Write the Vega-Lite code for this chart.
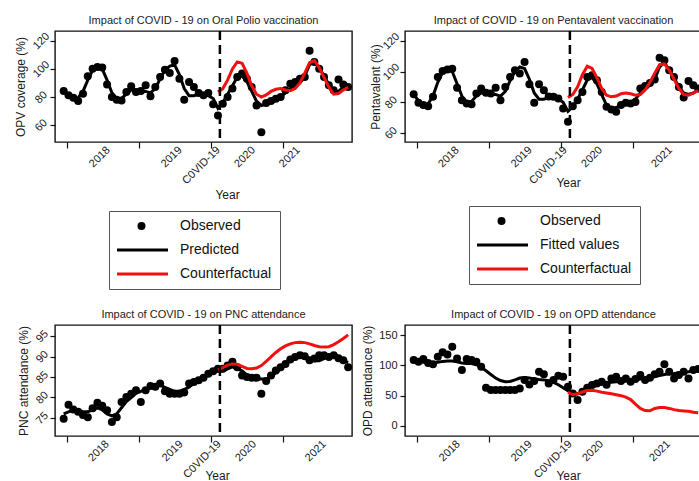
{
"$schema": "https://vega.github.io/schema/vega-lite/v6.json",
"padding": {"left": 13, "top": 14, "right": 0, "bottom": 0},
"bounds": "flush",
"columns": 2,
"spacing": {"row": 183, "column": 53},
"datasets": {
"p1": [
{"t":1,"obs":84.3,"fit":84},{"t":2,"obs":81.2,"fit":81},{"t":3,"obs":79.5,"fit":79},{"t":4,"obs":77.1,"fit":79.5},{"t":5,"obs":82.4,"fit":84},
{"t":6,"obs":94.8,"fit":92},{"t":7,"obs":100.2,"fit":99},{"t":8,"obs":101.4,"fit":101},{"t":9,"obs":101,"fit":100},{"t":10,"obs":89,"fit":92},
{"t":11,"obs":80,"fit":83},{"t":12,"obs":78,"fit":79},{"t":13,"obs":77.6,"fit":79},{"t":14,"obs":83.6,"fit":82},{"t":15,"obs":87.6,"fit":85},
{"t":16,"obs":83.6,"fit":85},{"t":17,"obs":84.3,"fit":84},{"t":18,"obs":88.4,"fit":84},{"t":19,"obs":80.5,"fit":83},{"t":20,"obs":87.1,"fit":86},
{"t":21,"obs":94.3,"fit":93},{"t":22,"obs":99.5,"fit":99},{"t":23,"obs":97.1,"fit":102},{"t":24,"obs":105.7,"fit":103},{"t":25,"obs":93.1,"fit":96},
{"t":26,"obs":78,"fit":86},{"t":27,"obs":90.7,"fit":81},{"t":28,"obs":87.1,"fit":81},{"t":29,"obs":82.9,"fit":82},{"t":30,"obs":81.2,"fit":82},
{"t":31,"obs":82.9,"fit":81},{"t":32,"obs":74.8,"fit":79},{"t":33,"obs":66.9,"fit":72,"cf":83.6},{"t":34,"obs":75.2,"fit":76,"cf":86},{"t":35,"obs":80,"fit":82,"cf":92},
{"t":36,"obs":86,"fit":88,"cf":100},{"t":37,"obs":94.3,"fit":94,"cf":105},{"t":38,"obs":96.7,"fit":95,"cf":104},{"t":39,"obs":93.1,"fit":91,"cf":97},{"t":40,"obs":87.1,"fit":84,"cf":88},
{"t":41,"obs":74,"fit":77,"cf":82},{"t":42,"obs":55,"fit":74,"cf":80},{"t":43,"obs":75.7,"fit":75,"cf":81.5},{"t":44,"obs":77.1,"fit":77,"cf":84},{"t":45,"obs":78.8,"fit":78.5,"cf":85.5},
{"t":46,"obs":80,"fit":80,"cf":86},{"t":47,"obs":84.8,"fit":83,"cf":85},{"t":48,"obs":89.5,"fit":86,"cf":84.5},{"t":49,"obs":90.7,"fit":88,"cf":86},{"t":50,"obs":93.1,"fit":90,"cf":90},
{"t":51,"obs":94.3,"fit":95,"cf":97},{"t":52,"obs":112.9,"fit":103,"cf":104.5},{"t":53,"obs":105,"fit":105,"cf":106},{"t":54,"obs":100.2,"fit":101,"cf":101},{"t":55,"obs":94.3,"fit":95,"cf":94},
{"t":56,"obs":88.4,"fit":89,"cf":87},{"t":57,"obs":84.8,"fit":84,"cf":82},{"t":58,"obs":92.4,"fit":84,"cf":82.5},{"t":59,"obs":89,"fit":87,"cf":85},{"t":60,"obs":87.1,"fit":88,"cf":87}
],
"p2": [
{"t":1,"obs":85.2,"fit":85},{"t":2,"obs":79.6,"fit":81},{"t":3,"obs":78.1,"fit":78},{"t":4,"obs":77.4,"fit":79},{"t":5,"obs":83.5,"fit":84},
{"t":6,"obs":96.5,"fit":93},{"t":7,"obs":100.4,"fit":99.5},{"t":8,"obs":101.3,"fit":101.5},{"t":9,"obs":101.9,"fit":100},{"t":10,"obs":89.5,"fit":92},
{"t":11,"obs":81.3,"fit":84},{"t":12,"obs":79.1,"fit":80},{"t":13,"obs":78.7,"fit":80.5},{"t":14,"obs":85.6,"fit":84},{"t":15,"obs":88.9,"fit":86},
{"t":16,"obs":86.1,"fit":86},{"t":17,"obs":85.6,"fit":85},{"t":18,"obs":89.5,"fit":85},{"t":19,"obs":81.3,"fit":84},{"t":20,"obs":90,"fit":87},
{"t":21,"obs":96.5,"fit":94},{"t":22,"obs":100.9,"fit":100},{"t":23,"obs":98.7,"fit":103},{"t":24,"obs":106.3,"fit":102},{"t":25,"obs":91.8,"fit":95},
{"t":26,"obs":79.6,"fit":86},{"t":27,"obs":91.8,"fit":82},{"t":28,"obs":87.8,"fit":82},{"t":29,"obs":83.7,"fit":83},{"t":30,"obs":83.5,"fit":83},
{"t":31,"obs":82.4,"fit":82},{"t":32,"obs":75.8,"fit":80},{"t":33,"obs":67.2,"fit":74,"cf":83},{"t":34,"obs":77.4,"fit":77,"cf":85},{"t":35,"obs":81.3,"fit":82,"cf":90},
{"t":36,"obs":86.7,"fit":88,"cf":98},{"t":37,"obs":96.5,"fit":94.5,"cf":103.5},{"t":38,"obs":97.6,"fit":96,"cf":102},{"t":39,"obs":94.4,"fit":92,"cf":96},{"t":40,"obs":86.7,"fit":85,"cf":89},
{"t":41,"obs":77,"fit":78,"cf":84.5},{"t":42,"obs":75.2,"fit":76,"cf":83.5},{"t":43,"obs":73.7,"fit":76.5,"cf":84},{"t":44,"obs":78.1,"fit":78,"cf":85.5},{"t":45,"obs":79.6,"fit":79,"cf":86},
{"t":46,"obs":79.2,"fit":80,"cf":85.5},{"t":47,"obs":80.2,"fit":82,"cf":84.5},{"t":48,"obs":88.9,"fit":86,"cf":85},{"t":49,"obs":90.5,"fit":89,"cf":88},{"t":50,"obs":92.6,"fit":91,"cf":93},
{"t":51,"obs":94.8,"fit":95,"cf":99},{"t":52,"obs":109.1,"fit":103,"cf":104.5},{"t":53,"obs":107.4,"fit":106,"cf":105},{"t":54,"obs":100.9,"fit":101,"cf":101},{"t":55,"obs":96.5,"fit":96,"cf":95},
{"t":56,"obs":90,"fit":90,"cf":89},{"t":57,"obs":83,"fit":86,"cf":85},{"t":58,"obs":93.9,"fit":85,"cf":84.5},{"t":59,"obs":91.1,"fit":86,"cf":86},{"t":60,"obs":88.9,"fit":88,"cf":87.5}
],
"p3": [
{"t":1,"obs":74.8,"fit":76},{"t":2,"obs":78.2,"fit":76.5},{"t":3,"obs":77.1,"fit":77},{"t":4,"obs":76.5,"fit":77},{"t":5,"obs":75.7,"fit":76.5},
{"t":6,"obs":75.2,"fit":76.5},{"t":7,"obs":77.4,"fit":77},{"t":8,"obs":78.7,"fit":77.5},{"t":9,"obs":78,"fit":77},{"t":10,"obs":76.9,"fit":76},
{"t":11,"obs":74,"fit":75.5},{"t":12,"obs":75.2,"fit":76},{"t":13,"obs":78.9,"fit":77.5},{"t":14,"obs":80.1,"fit":79},{"t":15,"obs":80.9,"fit":80},
{"t":16,"obs":81.8,"fit":81},{"t":17,"obs":78.9,"fit":81.5},{"t":18,"obs":81.8,"fit":82},{"t":19,"obs":82.8,"fit":82.5},{"t":20,"obs":82.6,"fit":83},
{"t":21,"obs":83.4,"fit":83},{"t":22,"obs":81.5,"fit":82.5},{"t":23,"obs":80.9,"fit":82},{"t":24,"obs":80.9,"fit":81.5},{"t":25,"obs":80.9,"fit":81.5},
{"t":26,"obs":81.2,"fit":82},{"t":27,"obs":83.4,"fit":82.5},{"t":28,"obs":83.8,"fit":83.5},{"t":29,"obs":84.2,"fit":84.5},{"t":30,"obs":84.8,"fit":85},
{"t":31,"obs":85.8,"fit":85.5},{"t":32,"obs":86.4,"fit":86},{"t":33,"obs":87,"fit":86.5,"cf":86.7},{"t":34,"obs":87,"fit":86.5,"cf":87.3},{"t":35,"obs":87.8,"fit":87,"cf":87.9},
{"t":36,"obs":88.7,"fit":87.5,"cf":88.2},{"t":37,"obs":87.4,"fit":87,"cf":88.1},{"t":38,"obs":85.4,"fit":86.5,"cf":87.6},{"t":39,"obs":85,"fit":85.5,"cf":87.1},{"t":40,"obs":84.8,"fit":85,"cf":87},
{"t":41,"obs":84.8,"fit":84.5,"cf":87.2},{"t":42,"obs":80.9,"fit":84.5,"cf":87.8},{"t":43,"obs":84,"fit":84.5,"cf":88.8},{"t":44,"obs":85.4,"fit":85,"cf":89.9},{"t":45,"obs":86.6,"fit":86,"cf":91},
{"t":46,"obs":87.4,"fit":87,"cf":91.9},{"t":47,"obs":88.2,"fit":88,"cf":92.6},{"t":48,"obs":89.3,"fit":89,"cf":93.1},{"t":49,"obs":89.9,"fit":89.5,"cf":93.4},{"t":50,"obs":90.3,"fit":90,"cf":93.5},
{"t":51,"obs":90.1,"fit":90,"cf":93.4},{"t":52,"obs":89.1,"fit":89.5,"cf":93.1},{"t":53,"obs":89.5,"fit":89,"cf":92.7},{"t":54,"obs":90.3,"fit":89,"cf":92.4},{"t":55,"obs":90.3,"fit":89.5,"cf":92.3},
{"t":56,"obs":89.9,"fit":90,"cf":92.4},{"t":57,"obs":90.3,"fit":90.5,"cf":92.9},{"t":58,"obs":89.6,"fit":90,"cf":93.6},{"t":59,"obs":89.1,"fit":89,"cf":94.4},{"t":60,"obs":87.4,"fit":88.5,"cf":95.3}
],
"p4": [
{"t":1,"obs":108.8,"fit":107},{"t":2,"obs":106,"fit":106},{"t":3,"obs":110.4,"fit":105},{"t":4,"obs":104,"fit":104},{"t":5,"obs":101.6,"fit":104},
{"t":6,"obs":114.2,"fit":105},{"t":7,"obs":121.4,"fit":106.5},{"t":8,"obs":118,"fit":107},{"t":9,"obs":130.7,"fit":107},{"t":10,"obs":111.4,"fit":106},
{"t":11,"obs":92.3,"fit":104},{"t":12,"obs":110.4,"fit":103},{"t":13,"obs":108.8,"fit":103},{"t":14,"obs":106,"fit":101},{"t":15,"obs":97.8,"fit":97},
{"t":16,"obs":63.1,"fit":91},{"t":17,"obs":59.3,"fit":85},{"t":18,"obs":59.3,"fit":79},{"t":19,"obs":59.3,"fit":75},{"t":20,"obs":59.3,"fit":73},
{"t":21,"obs":59.3,"fit":73.5},{"t":22,"obs":59.3,"fit":76},{"t":23,"obs":62,"fit":79},{"t":24,"obs":75.8,"fit":80},{"t":25,"obs":68.6,"fit":79},
{"t":26,"obs":74.2,"fit":77.5},{"t":27,"obs":89.5,"fit":76.5},{"t":28,"obs":85.1,"fit":76},{"t":29,"obs":70.2,"fit":74.5},{"t":30,"obs":75.8,"fit":72},
{"t":31,"obs":82.9,"fit":68},{"t":32,"obs":81.3,"fit":63},{"t":33,"obs":64.8,"fit":58,"cf":55.5},{"t":34,"obs":53.7,"fit":54,"cf":51.5},{"t":35,"obs":42.9,"fit":53,"cf":53},
{"t":36,"obs":56.5,"fit":56,"cf":56},{"t":37,"obs":63.1,"fit":60,"cf":58.5},{"t":38,"obs":67.6,"fit":64,"cf":59},{"t":39,"obs":70.2,"fit":67,"cf":57.5},{"t":40,"obs":73,"fit":69,"cf":55.5},
{"t":41,"obs":68,"fit":71,"cf":54.5},{"t":42,"obs":78.5,"fit":72,"cf":53},{"t":43,"obs":81.3,"fit":73,"cf":51.5},{"t":44,"obs":74.2,"fit":73.5,"cf":50},{"t":45,"obs":78.5,"fit":74,"cf":47.5},
{"t":46,"obs":73,"fit":75,"cf":43.5},{"t":47,"obs":77.5,"fit":76,"cf":36},{"t":48,"obs":84,"fit":77.5,"cf":29},{"t":49,"obs":75.8,"fit":78.5,"cf":25.5},{"t":50,"obs":79.6,"fit":80,"cf":25},
{"t":51,"obs":85.1,"fit":81.5,"cf":29},{"t":52,"obs":89.5,"fit":83,"cf":30.5},{"t":53,"obs":101.6,"fit":85,"cf":30.5},{"t":54,"obs":89.5,"fit":86,"cf":29},{"t":55,"obs":78.5,"fit":86.5,"cf":27},
{"t":56,"obs":84,"fit":87.5,"cf":25.5},{"t":57,"obs":89.5,"fit":88.5,"cf":24.8},{"t":58,"obs":78.5,"fit":89.5,"cf":24.2},{"t":59,"obs":92.3,"fit":91,"cf":22.6},{"t":60,"obs":94,"fit":92.5,"cf":22}
],
"covid": [{"intervention": 33.4}]
},
"concat": [
{
"width": 297, "height": 111,
"title": {"text": "Impact of COVID - 19 on Oral Polio vaccination"},
"data": {"name": "p1"},
"layer": [
{"mark": {"type": "point", "filled": true, "size": 64, "opacity": 1},
 "encoding": {
  "x": {"field": "t", "type": "quantitative", "scale": {"domain": [-0.8, 60.8], "nice": false, "zero": false},
        "axis": {"orient": "bottom", "values": [1.7, 16.6, 31.6, 46.5], "labels": false, "ticks": true, "tickSize": 6, "title": null, "domain": false}},
  "y": {"field": "obs", "type": "quantitative", "scale": {"domain": [48, 127], "nice": false, "zero": false},
        "axis": {"values": [60, 80, 100, 120], "title": "OPV coverage (%)", "labelAngle": -45, "labelAlign": "center", "labelBaseline": "middle", "labelPadding": 9, "labelOverlap": false, "labelBound": false, "labelFlush": false, "tickSize": 5, "titleX": -35, "titleY": 55.5, "titleBaseline": "middle", "titleAngle": -90, "titleAlign": "center"}},
  "fill": {"datum": "Observed", "type": "nominal",
        "scale": {"domain": ["Observed"], "range": ["black"]},
        "legend": {"orient": "none", "legendX": 54, "legendY": 180, "title": null, "padding": 8,
                   "labelFontSize": 14, "labelColor": "#111", "symbolType": "circle", "symbolSize": 64, "symbolStrokeWidth": 0,
                   "symbolOffset": 17.5, "labelOffset": 31.5, "symbolFillColor": "black", "symbolOpacity": 1}}
 }},
{"mark": {"type": "line", "strokeWidth": 3},
 "encoding": {
  "x": {"field": "t", "type": "quantitative",
        "axis": {"orient": "bottom", "values": [10.2, 25.1, 33.0, 40.3, 49.6], "labelExpr": "datum.value < 18 ? '2018' : datum.value < 30 ? '2019' : datum.value < 36 ? 'C0VID-19' : datum.value < 45 ? '2020' : '2021'",
                 "ticks": false, "tickSize": 0, "domain": false, "labelAngle": -45, "labelAlign": "right", "labelBaseline": "middle", "labelPadding": 6, "labelOverlap": false, "labelBound": false, "labelFlush": false,
                 "title": "Year", "titleX": 172, "titleY": 52, "titleBaseline": "middle"}},
  "y": {"field": "fit", "type": "quantitative",
        "axis": {"values": [60, 80, 100, 120], "title": "OPV coverage (%)", "labelAngle": -45, "labelAlign": "center", "labelBaseline": "middle", "labelPadding": 9, "labelOverlap": false, "labelBound": false, "labelFlush": false, "tickSize": 5, "titleX": -35, "titleY": 55.5, "titleBaseline": "middle", "titleAngle": -90, "titleAlign": "center"}},
  "stroke": {"datum": "Predicted", "type": "nominal",
        "scale": {"domain": ["Predicted", "Counterfactual"], "range": ["black", "#f01010"]},
        "legend": {"orient": "none", "legendX": 54, "legendY": 180, "title": " ", "titleFontSize": 14, "titlePadding": 10, "padding": 8, "rowPadding": 10,
                   "labelFontSize": 14, "labelColor": "#111", "strokeColor": "#555", "symbolType": "stroke", "symbolSize": 2809, "symbolStrokeWidth": 3,
                   "clipHeight": 14, "symbolOffset": -3.5, "labelOffset": 10.5, "symbolOpacity": 1}}
 }},
{"mark": {"type": "line", "strokeWidth": 3},
 "encoding": {
  "x": {"field": "t", "type": "quantitative", "axis": null},
  "y": {"field": "cf", "type": "quantitative",
        "axis": {"values": [60, 80, 100, 120], "title": "OPV coverage (%)", "labelAngle": -45, "labelAlign": "center", "labelBaseline": "middle", "labelPadding": 9, "labelOverlap": false, "labelBound": false, "labelFlush": false, "tickSize": 5, "titleX": -35, "titleY": 55.5, "titleBaseline": "middle", "titleAngle": -90, "titleAlign": "center"}},
  "stroke": {"datum": "Counterfactual", "type": "nominal"}
 }},
{"data": {"name": "covid"},
 "mark": {"type": "rule", "strokeDash": [9, 5], "strokeWidth": 2.5, "color": "black"},
 "encoding": {"x": {"field": "intervention", "type": "quantitative", "axis": null}}}
],
"resolve": {"axis": {"x": "independent"}}
},
{
"width": 297, "height": 111,
"title": {"text": "Impact of COVID - 19 on Pentavalent vaccination"},
"data": {"name": "p2"},
"layer": [
{"mark": {"type": "point", "filled": true, "size": 64, "opacity": 1},
 "encoding": {
  "x": {"field": "t", "type": "quantitative", "scale": {"domain": [-0.8, 60.8], "nice": false, "zero": false},
        "axis": {"orient": "bottom", "values": [1.7, 16.6, 31.6, 46.5], "labels": false, "ticks": true, "tickSize": 6, "title": null, "domain": false}},
  "y": {"field": "obs", "type": "quantitative", "scale": {"domain": [54, 126.5], "nice": false, "zero": false},
        "axis": {"values": [60, 80, 100, 120], "title": "Pentavalent (%)", "labelAngle": -45, "labelAlign": "center", "labelBaseline": "middle", "labelPadding": 9, "labelOverlap": false, "labelBound": false, "labelFlush": false, "tickSize": 5, "titleX": -30, "titleY": 55.5, "titleBaseline": "middle", "titleAngle": -90, "titleAlign": "center"}},
  "fill": {"datum": "Observed", "type": "nominal",
        "scale": {"domain": ["Observed"], "range": ["black"]},
        "legend": {"orient": "none", "legendX": 64, "legendY": 175, "title": null, "padding": 8,
                   "labelFontSize": 14, "labelColor": "#111", "symbolType": "circle", "symbolSize": 64, "symbolStrokeWidth": 0,
                   "symbolOffset": 17.5, "labelOffset": 31.5, "symbolFillColor": "black", "symbolOpacity": 1}}
 }},
{"mark": {"type": "line", "strokeWidth": 3},
 "encoding": {
  "x": {"field": "t", "type": "quantitative",
        "axis": {"orient": "bottom", "values": [10.0, 25.1, 32.4, 39.7, 54.2], "labelExpr": "datum.value < 18 ? '2018' : datum.value < 30 ? '2019' : datum.value < 36 ? 'C0VID-19' : datum.value < 45 ? '2020' : '2021'",
                 "ticks": false, "tickSize": 0, "domain": false, "labelAngle": -45, "labelAlign": "right", "labelBaseline": "middle", "labelPadding": 6, "labelOverlap": false, "labelBound": false, "labelFlush": false,
                 "title": "Year", "titleX": 163, "titleY": 40, "titleBaseline": "middle"}},
  "y": {"field": "fit", "type": "quantitative",
        "axis": {"values": [60, 80, 100, 120], "title": "Pentavalent (%)", "labelAngle": -45, "labelAlign": "center", "labelBaseline": "middle", "labelPadding": 9, "labelOverlap": false, "labelBound": false, "labelFlush": false, "tickSize": 5, "titleX": -30, "titleY": 55.5, "titleBaseline": "middle", "titleAngle": -90, "titleAlign": "center"}},
  "stroke": {"datum": "Fitted values", "type": "nominal",
        "scale": {"domain": ["Fitted values", "Counterfactual"], "range": ["black", "#f01010"]},
        "legend": {"orient": "none", "legendX": 64, "legendY": 175, "title": " ", "titleFontSize": 14, "titlePadding": 10, "padding": 8, "rowPadding": 10,
                   "labelFontSize": 14, "labelColor": "#111", "strokeColor": "#555", "symbolType": "stroke", "symbolSize": 2809, "symbolStrokeWidth": 3,
                   "clipHeight": 14, "symbolOffset": -3.5, "labelOffset": 10.5, "symbolOpacity": 1}}
 }},
{"mark": {"type": "line", "strokeWidth": 3},
 "encoding": {
  "x": {"field": "t", "type": "quantitative", "axis": null},
  "y": {"field": "cf", "type": "quantitative",
        "axis": {"values": [60, 80, 100, 120], "title": "Pentavalent (%)", "labelAngle": -45, "labelAlign": "center", "labelBaseline": "middle", "labelPadding": 9, "labelOverlap": false, "labelBound": false, "labelFlush": false, "tickSize": 5, "titleX": -30, "titleY": 55.5, "titleBaseline": "middle", "titleAngle": -90, "titleAlign": "center"}},
  "stroke": {"datum": "Counterfactual", "type": "nominal"}
 }},
{"data": {"name": "covid"},
 "mark": {"type": "rule", "strokeDash": [9, 5], "strokeWidth": 2.5, "color": "black"},
 "encoding": {"x": {"field": "intervention", "type": "quantitative", "axis": null}}}
],
"resolve": {"axis": {"x": "independent"}}
},
{
"width": 297, "height": 111,
"title": {"text": "Impact of COVID - 19 on PNC attendance"},
"data": {"name": "p3"},
"layer": [
{"mark": {"type": "point", "filled": true, "size": 64, "opacity": 1, "color": "black"},
 "encoding": {
  "x": {"field": "t", "type": "quantitative", "scale": {"domain": [-0.8, 60.8], "nice": false, "zero": false},
        "axis": {"orient": "bottom", "values": [1.7, 16.6, 31.6, 46.5], "labels": false, "ticks": true, "tickSize": 6, "title": null, "domain": false}},
  "y": {"field": "obs", "type": "quantitative", "scale": {"domain": [70.6, 97.7], "nice": false, "zero": false},
        "axis": {"values": [75, 80, 85, 90, 95], "title": "PNC attendance (%)", "labelAngle": -45, "labelAlign": "center", "labelBaseline": "middle", "labelPadding": 8, "labelOverlap": false, "labelBound": false, "labelFlush": false, "tickSize": 5, "titleX": -32, "titleY": 55.5, "titleBaseline": "middle", "titleAngle": -90, "titleAlign": "center"}}
 }},
{"mark": {"type": "line", "strokeWidth": 3, "color": "black"},
 "encoding": {
  "x": {"field": "t", "type": "quantitative",
        "axis": {"orient": "bottom", "values": [10.0, 25.3, 33.2, 40.5, 55.0], "labelExpr": "datum.value < 18 ? '2018' : datum.value < 30 ? '2019' : datum.value < 36 ? 'C0VID-19' : datum.value < 45 ? '2020' : '2021'",
                 "ticks": false, "tickSize": 0, "domain": false, "labelAngle": -45, "labelAlign": "right", "labelBaseline": "middle", "labelPadding": 6, "labelOverlap": false, "labelBound": false, "labelFlush": false,
                 "title": "Year", "titleX": 162, "titleY": 39, "titleBaseline": "middle"}},
  "y": {"field": "fit", "type": "quantitative",
        "axis": {"values": [75, 80, 85, 90, 95], "title": "PNC attendance (%)", "labelAngle": -45, "labelAlign": "center", "labelBaseline": "middle", "labelPadding": 8, "labelOverlap": false, "labelBound": false, "labelFlush": false, "tickSize": 5, "titleX": -32, "titleY": 55.5, "titleBaseline": "middle", "titleAngle": -90, "titleAlign": "center"}}
 }},
{"mark": {"type": "line", "strokeWidth": 3, "color": "#f01010"},
 "encoding": {
  "x": {"field": "t", "type": "quantitative", "axis": null},
  "y": {"field": "cf", "type": "quantitative",
        "axis": {"values": [75, 80, 85, 90, 95], "title": "PNC attendance (%)", "labelAngle": -45, "labelAlign": "center", "labelBaseline": "middle", "labelPadding": 8, "labelOverlap": false, "labelBound": false, "labelFlush": false, "tickSize": 5, "titleX": -32, "titleY": 55.5, "titleBaseline": "middle", "titleAngle": -90, "titleAlign": "center"}}
 }},
{"data": {"name": "covid"},
 "mark": {"type": "rule", "strokeDash": [9, 5], "strokeWidth": 2.5, "color": "black"},
 "encoding": {"x": {"field": "intervention", "type": "quantitative", "axis": null}}}
],
"resolve": {"axis": {"x": "independent"}}
},
{
"width": 297, "height": 111,
"title": {"text": "Impact of COVID - 19 on OPD attendance"},
"data": {"name": "p4"},
"layer": [
{"mark": {"type": "point", "filled": true, "size": 64, "opacity": 1, "color": "black"},
 "encoding": {
  "x": {"field": "t", "type": "quantitative", "scale": {"domain": [-0.8, 60.8], "nice": false, "zero": false},
        "axis": {"orient": "bottom", "values": [1.7, 16.6, 31.6, 46.5], "labels": false, "ticks": true, "tickSize": 6, "title": null, "domain": false}},
  "y": {"field": "obs", "type": "quantitative", "scale": {"domain": [-16.5, 166.5], "nice": false, "zero": false},
        "axis": {"values": [0, 50, 100, 150], "title": "OPD attendance (%)", "labelAngle": 0, "labelAlign": "right", "labelBaseline": "middle", "labelPadding": 3, "labelOverlap": false, "labelBound": false, "labelFlush": false, "tickSize": 5, "titleX": -38, "titleY": 55.5, "titleBaseline": "middle", "titleAngle": -90, "titleAlign": "center"}}
 }},
{"mark": {"type": "line", "strokeWidth": 3, "color": "black"},
 "encoding": {
  "x": {"field": "t", "type": "quantitative",
        "axis": {"orient": "bottom", "values": [10.2, 25.1, 33.4, 39.9, 53.8], "labelExpr": "datum.value < 18 ? '2018' : datum.value < 30 ? '2019' : datum.value < 36 ? 'C0VID-19' : datum.value < 45 ? '2020' : '2021'",
                 "ticks": false, "tickSize": 0, "domain": false, "labelAngle": -45, "labelAlign": "right", "labelBaseline": "middle", "labelPadding": 6, "labelOverlap": false, "labelBound": false, "labelFlush": false,
                 "title": "Year", "titleX": 163, "titleY": 39, "titleBaseline": "middle"}},
  "y": {"field": "fit", "type": "quantitative",
        "axis": {"values": [0, 50, 100, 150], "title": "OPD attendance (%)", "labelAngle": 0, "labelAlign": "right", "labelBaseline": "middle", "labelPadding": 3, "labelOverlap": false, "labelBound": false, "labelFlush": false, "tickSize": 5, "titleX": -38, "titleY": 55.5, "titleBaseline": "middle", "titleAngle": -90, "titleAlign": "center"}}
 }},
{"mark": {"type": "line", "strokeWidth": 3, "color": "#f01010"},
 "encoding": {
  "x": {"field": "t", "type": "quantitative", "axis": null},
  "y": {"field": "cf", "type": "quantitative",
        "axis": {"values": [0, 50, 100, 150], "title": "OPD attendance (%)", "labelAngle": 0, "labelAlign": "right", "labelBaseline": "middle", "labelPadding": 3, "labelOverlap": false, "labelBound": false, "labelFlush": false, "tickSize": 5, "titleX": -38, "titleY": 55.5, "titleBaseline": "middle", "titleAngle": -90, "titleAlign": "center"}}
 }},
{"data": {"name": "covid"},
 "mark": {"type": "rule", "strokeDash": [9, 5], "strokeWidth": 2.5, "color": "black"},
 "encoding": {"x": {"field": "intervention", "type": "quantitative", "axis": null}}}
],
"resolve": {"axis": {"x": "independent"}}
}
],
"resolve": {"scale": {"fill": "independent", "stroke": "independent", "x": "independent", "y": "independent"}, "legend": {"fill": "independent", "stroke": "independent"}},
"config": {
  "font": "Liberation Sans",
  "view": {"stroke": "#111", "strokeWidth": 1.4},
  "axis": {"grid": false, "domain": false, "labelOverlap": false, "tickColor": "#111", "tickWidth": 1.2, "labelColor": "#1a1a1a", "titleColor": "#1a1a1a", "labelFontSize": 11, "titleFontSize": 12, "titleFontWeight": "normal", "labelFont": "Liberation Sans", "titleFont": "Liberation Sans"},
  "axisY": {"labelOverlap": false},
  "title": {"fontSize": 11, "fontWeight": "normal", "color": "#222", "offset": 4, "font": "Liberation Sans"},
  "legend": {"labelFont": "Liberation Sans", "titleFont": "Liberation Sans"}
}
}
